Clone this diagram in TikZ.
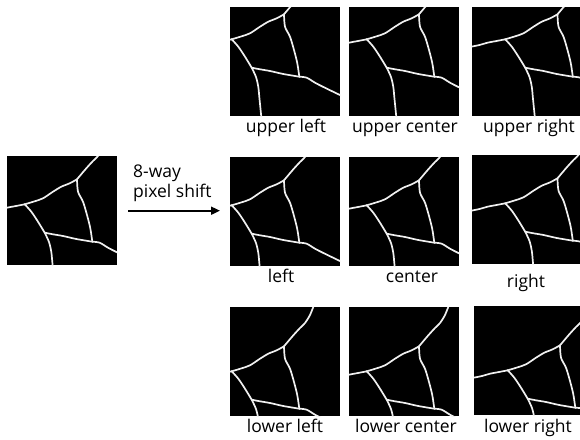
\documentclass[tikz,border=0pt]{standalone}
\usepackage{fontspec}
\setmainfont{Open Sans}
\usetikzlibrary{arrows.meta}

% crack lines of the binary mask, in mask pixels (y grows downward)
\newcommand\crackpattern{%
  \draw[crack] plot[smooth] coordinates {(-18,56) (-8,54) (0,51.7) (9,50) (17.7,48.3)};
  \draw[crack] plot[smooth] coordinates {(17.7,48.3) (27,45.5) (36,42.3) (46,35.7) (54.3,30.7) (62.7,27.3) (70,23.3)};
  \draw[crack] plot[smooth] coordinates {(70,23.3) (79.3,12.3) (86,5) (91,0) (96,-8) (100,-18)};
  \draw[crack] plot[smooth] coordinates {(70,23.3) (71,35.7) (76,45.7) (80,59) (83.3,72.3) (85.3,85.7)};
  \draw[crack] plot[smooth] coordinates {(17.7,48.3) (24.3,55.7) (31,65.7) (37.7,76.7)};
  \draw[crack] plot[smooth] coordinates {(37.7,76.7) (42,86) (44.3,96) (45.5,108) (47.5,128)};
  \draw[crack] plot[smooth] coordinates {(37.7,76.7) (46,78.3) (56,80) (69.3,83) (85.3,85.7)};
  \draw[crack] plot[smooth] coordinates {(85.3,85.7) (92.7,86.7) (101,91.7) (110,96.3) (128,105)};
}

% #1 name, #2/#3 top-left corner, #4/#5 shift of the mask content
\newcommand\maskpanel[5]{%
  \node[panel, anchor=north west] (#1) at (#2,#3) {};
  \begin{scope}
    \clip (#1.north west) rectangle (#1.south east);
    \begin{scope}[shift={(#2+#4,#3+#5)}]
      \crackpattern
    \end{scope}
  \end{scope}
}

\begin{document}
\begin{tikzpicture}[x=1pt, y=-1pt,
    panel/.style={fill=black, draw=none, inner sep=0pt, minimum width=110pt, minimum height=109pt},
    crack/.style={draw=white!94!black, line width=1.7pt, line join=round, line cap=round},
    caption/.style={font=\fontsize{17.5}{20}\selectfont, anchor=base, inner sep=0pt, text=black},
    shiftarrow/.style={line width=1.8pt, -{Triangle[length=9pt, width=8pt]}}]
  \useasboundingbox (0,0) rectangle (580,439);
  \fill[white] (0,0) rectangle (580,439);

  % input mask
  \maskpanel{orig}{7}{156}{0}{0}

  % eight shifted copies and the unshifted one
  \maskpanel{ul}{230}{7}{-16}{-16}
  \maskpanel{uc}{349}{7}{0}{-16}
  \maskpanel{ur}{471.5}{7}{16}{-16}
  \maskpanel{ml}{230}{157}{-16}{0}
  \maskpanel{mc}{349}{157}{0}{0}
  \maskpanel{mr}{471.5}{155}{16}{0}
  \maskpanel{ll}{230}{307}{-16}{16}
  \maskpanel{lc}{349}{307}{0}{16}
  \maskpanel{lr}{474}{306}{16}{16}

  % captions
  \node[caption] (tul) at (286,132) {upper left};
  \node[caption] (tuc) at (405,132) {upper center};
  \node[caption] (tur) at (529,132) {upper right};
  \node[caption] (tml) at (281,282) {left};
  \node[caption] (tmc) at (412,282) {center};
  \node[caption] (tmr) at (526,287) {right};
  \node[caption] (tll) at (285,432) {lower left};
  \node[caption] (tlc) at (406,432) {lower center};
  \node[caption] (tlr) at (528,432) {lower right};

  % shift arrow and its label
  \node[font=\fontsize{17.5}{20}\selectfont, align=left, anchor=north west, inner sep=0pt, text=black]
    (shiftlabel) at (133,165) {8-way\\pixel shift};
  \draw[shiftarrow, shorten <=11pt, shorten >=10pt] (orig.east) -- (orig.east -| ml.west);
\end{tikzpicture}
\end{document}
